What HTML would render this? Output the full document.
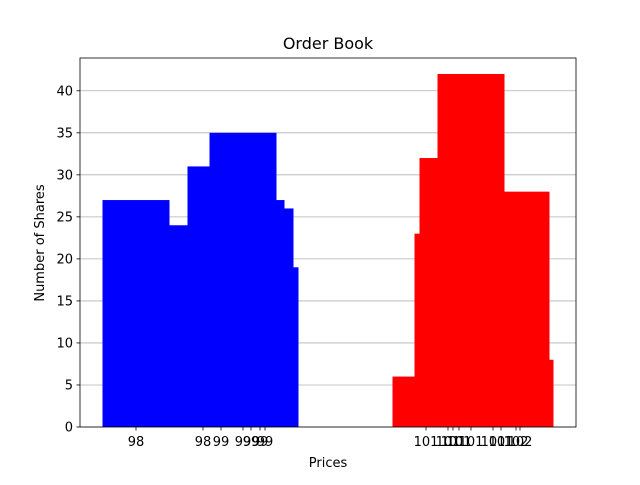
<!DOCTYPE html>
<html><head><meta charset="utf-8"><style>
body{margin:0;background:#fff}
text{font-family:"DejaVu Sans","Liberation Sans",sans-serif;fill:#000}
</style></head><body>
<svg id="chart" width="640" height="480" xmlns="http://www.w3.org/2000/svg">
<rect width="640" height="480" fill="#fff"/>
<g id="grid"></g>
<g id="bars"></g>
<g id="axes"></g>
<text x="328" y="49" font-size="16" text-anchor="middle">Order Book</text>
<text x="328" y="467" font-size="13" text-anchor="middle">Prices</text>
<text x="0" y="0" font-size="13" text-anchor="middle" transform="translate(44,243) rotate(-90)">Number of Shares</text>
</svg>
<script>
const bidPrices=[97.8,98.47,98.65,98.87,98.95,99.04,99.09];
const bidSizes=[27,24,31,35,27,26,19];
const askPrices=[100.7,100.92,100.97,101.03,101.15,101.37,101.45,101.6,101.64];
const askSizes=[6,23,32,30,42,25,20,28,8];
const yTicks=[0,5,10,15,20,25,30,35,40];
const barWidth=0.67;
const L=80,R=576,T=58,B=427;
const xMin=97.24,xMax=102.2,yMax=43.9;
const NS="http://www.w3.org/2000/svg";
function xs(p){return L+(p-xMin)/(xMax-xMin)*(R-L);}
function ys(v){return B-v/yMax*(B-T);}
function mk(tag,attrs,parent){const e=document.createElementNS(NS,tag);for(const k in attrs)e.setAttribute(k,attrs[k]);parent.appendChild(e);return e;}
const grid=document.getElementById('grid'),bars=document.getElementById('bars'),axes=document.getElementById('axes');
yTicks.forEach(v=>{
  const g=mk('line',{x1:L,x2:R,y1:ys(v),y2:ys(v),stroke:'#b0b0b0','stroke-width':0.8},grid);
  
  
  const t=mk('line',{x1:L-3.5,x2:L,y1:ys(v),y2:ys(v),stroke:'#000','stroke-width':0.8},axes);
  
  
  const lb=mk('text',{x:L-7,y:ys(v)+4.5,'font-size':13,'text-anchor':'end'},axes);
  lb.textContent=v;
  
  
});
function drawSide(prices,sizes,color,name){
  prices.forEach((p,i)=>{
    const x0=xs(p-barWidth/2),x1=xs(p+barWidth/2);
    const r=mk('rect',{x:x0,y:ys(sizes[i]),width:x1-x0,height:B-ys(sizes[i]),fill:color},bars);
    
    
    const t=mk('line',{x1:xs(p),x2:xs(p),y1:B,y2:B+3.5,stroke:'#000','stroke-width':0.8},axes);
    
    
    const lb=mk('text',{x:xs(p),y:B+19,'font-size':13,'text-anchor':'middle'},axes);
    lb.textContent=Math.round(p);
    
    
  });
}
drawSide(bidPrices,bidSizes,'#0000ff','bid');
drawSide(askPrices,askSizes,'#ff0000','ask');
const fr=mk('rect',{x:L,y:T,width:R-L,height:B-T,fill:'none',stroke:'#000','stroke-width':0.8},axes);


</script>
</body></html>
